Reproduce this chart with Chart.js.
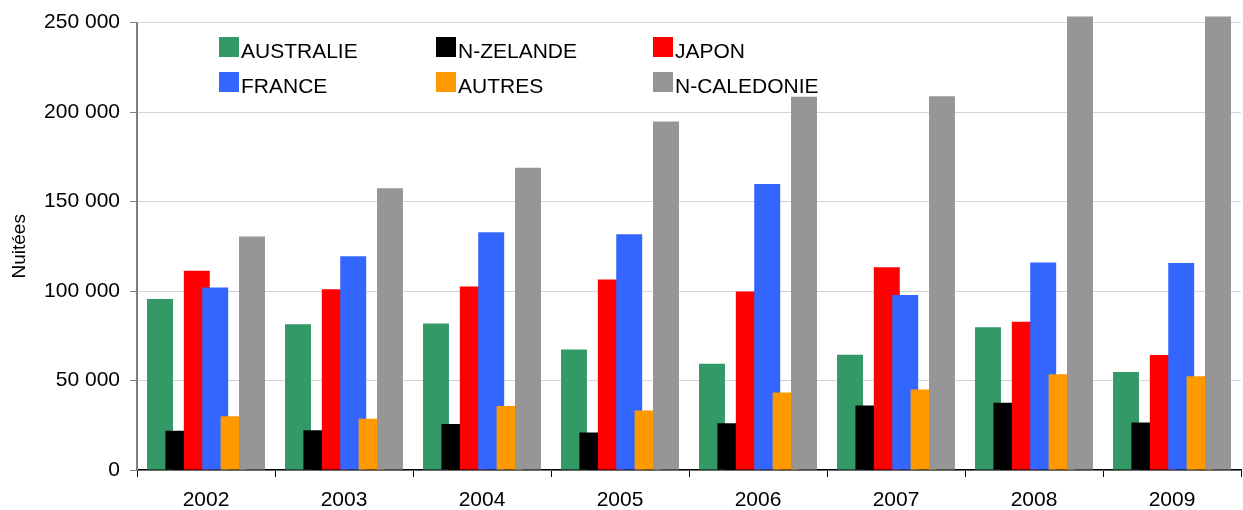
<!DOCTYPE html>
<html>
<head>
<meta charset="utf-8">
<script src="https://cdn.jsdelivr.net/npm/chart.js@4/dist/chart.umd.min.js"></script>
<style>
html,body{margin:0;padding:0;background:#fff;}
#wrap{width:1243px;height:510px;position:relative;}
</style>
</head>
<body>
<div id="wrap"><canvas id="c" width="1243" height="510"></canvas></div>
<script>
const years = ['2002','2003','2004','2005','2006','2007','2008','2009'];
const seriesNames = ['AUSTRALIE','N-ZELANDE','JAPON','FRANCE','AUTRES','N-CALEDONIE'];
const australie  = [95500, 81500, 81800, 67400, 59400, 64400, 79800, 54800];
const nZelande   = [22000, 22200, 25700, 20900, 26100, 36100, 37600, 26500];
const japon      = [111300, 101000, 102600, 106500, 99800, 113300, 82800, 64300];
const france     = [102000, 119500, 132800, 131700, 159800, 97800, 115900, 115600];
const autres     = [30000, 28700, 35700, 33300, 43300, 45000, 53500, 52400];
const nCaledonie = [130500, 157400, 168900, 194800, 208500, 208900, 260000, 260000];
const colors = ['#339966','#000000','#FF0000','#3366FF','#FF9900','#969696'];
const yTicks = [0, 50000, 100000, 150000, 200000, 250000];

const seriesValues = [australie, nZelande, japon, france, autres, nCaledonie];
const FONT = 'Liberation Sans, Arial, sans-serif';

const drawOrderPlugin = {
  id: 'drawOrder',
  beforeDatasetsDraw(chart) {
    const metas = chart.getSortedVisibleDatasetMetas();
    for (let i = 0; i < metas.length; i++) chart._drawDataset(metas[i]);
    return false;
  }
};

const legendPlugin = {
  id: 'gridLegend',
  afterDraw(chart) {
    const ctx = chart.ctx;
    const cols = [219, 436, 653];
    const rows = [37, 72];
    ctx.save();
    ctx.font = '21px ' + FONT;
    ctx.textBaseline = 'alphabetic';
    ctx.textAlign = 'left';
    chart.data.datasets.forEach((ds, i) => {
      const x = cols[i % 3], y = rows[Math.floor(i / 3)];
      ctx.fillStyle = ds.backgroundColor;
      ctx.fillRect(x, y, 20, 20);
      ctx.fillStyle = '#000';
      ctx.fillText(ds.label, x + 22, y + 21);
    });
    ctx.restore();
  }
};

new Chart(document.getElementById('c'), {
  type: 'bar',
  data: {
    labels: years,
    datasets: seriesNames.map((n, i) => ({
      label: n,
      data: seriesValues[i],
      backgroundColor: colors[i],
      borderWidth: 0,
      categoryPercentage: 0.8,
      barPercentage: 1.41,
      clip: {left: 0, top: 6, right: 0, bottom: 0}
    }))
  },
  options: {
    responsive: false,
    animation: false,
    events: [],
    layout: {padding: {top: 22, right: 2, left: 0, bottom: 0}},
    plugins: {legend: {display: false}, tooltip: {enabled: false}},
    scales: {
      x: {
        offset: true,
        grid: {display: true, drawOnChartArea: false, color: '#000', tickLength: 7, offset: true},
        border: {color: '#000', width: 1.5},
        ticks: {color: '#000', font: {family: FONT, size: 21}, padding: 11, maxRotation: 0},
        afterFit(s) { s.height = 40; }
      },
      y: {
        min: 0, max: 250000,
        afterBuildTicks(s) { s.ticks = yTicks.map(v => ({value: v})); },
        grid: {color: '#d4d4d4', tickColor: '#808080', tickLength: 7, lineWidth: 1},
        border: {color: '#808080', width: 2},
        ticks: {
          color: '#000', font: {family: FONT, size: 21}, padding: 10,
          callback: v => v === 0 ? '0' : String(v).replace(/\B(?=(\d{3})+(?!\d))/g, ' ')
        },
        title: {display: true, text: 'Nuitées', color: '#000', font: {family: FONT, size: 19}, padding: {top: 8, bottom: 0}},
        afterFit(s) { s.width = 137; }
      }
    }
  },
  plugins: [drawOrderPlugin, legendPlugin]
});
</script>
</body>
</html>
